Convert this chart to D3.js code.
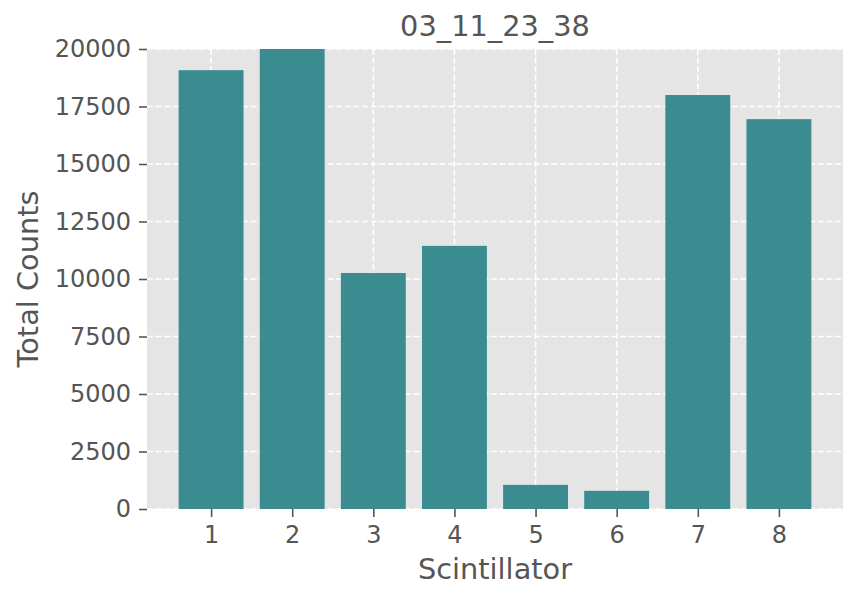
<!DOCTYPE html>
<html><head><meta charset="utf-8">
<script src="https://cdn.jsdelivr.net/npm/d3@7"></script>
<style>body{margin:0;background:#fff;} text{font-family:"DejaVu Sans",sans-serif;}</style>
</head><body>
<svg id="c" width="858" height="601"></svg>
<script>
const categories = [1,2,3,4,5,6,7,8];
const counts = [19080, 20000, 10260, 11440, 1050, 790, 18000, 16950];
const yTicks = [0,2500,5000,7500,10000,12500,15000,17500,20000];
const title = "03_11_23_38";
const xLabel = "Scintillator";
const yLabel = "Total Counts";

const svg = d3.select("#c");
const L=147, R=843, T=49, B=509;
const x = d3.scaleLinear().domain([0.21, 8.79]).range([L,R]);
const y = d3.scaleLinear().domain([0,20000]).range([B,T]);
const txt="#555555";

svg.append("rect").attr("x",L).attr("y",T).attr("width",R-L).attr("height",B-T).attr("fill","#e5e5e5");

// grid
svg.append("g").selectAll("line").data(yTicks).join("line")
 .attr("x1",L).attr("x2",R).attr("y1",d=>y(d)).attr("y2",d=>y(d))
 .attr("stroke","#fff").attr("stroke-width",1.6).attr("stroke-dasharray","6,2.6");
svg.append("g").selectAll("line").data(categories).join("line")
 .attr("x1",d=>x(d)).attr("x2",d=>x(d)).attr("y1",T).attr("y2",B)
 .attr("stroke","#fff").attr("stroke-width",1.6).attr("stroke-dasharray","6,2.6");

// bars
svg.append("g").selectAll("rect").data(categories).join("rect")
 .attr("x",(d)=>x(d-0.4)).attr("width",(d)=>x(d+0.4)-x(d-0.4))
 .attr("y",(d,i)=>y(counts[i])).attr("height",(d,i)=>y(0)-y(counts[i]))
 .attr("fill","#3a8c91");

// axes
const xa = svg.append("g").attr("transform",`translate(0,${B})`)
 .call(d3.axisBottom(x).tickValues(categories).tickFormat(d3.format("d")).tickSize(8).tickPadding(9));
const ya = svg.append("g").attr("transform",`translate(${L},0)`)
 .call(d3.axisLeft(y).tickValues(yTicks).tickFormat(d=>String(d)).tickSize(8).tickPadding(8));
[xa,ya].forEach(a=>{
  a.attr("font-size",null).attr("font-family",null);
  a.select(".domain").remove();
  a.selectAll(".tick line").attr("stroke",txt).attr("stroke-width",1.6);
  a.selectAll(".tick text").attr("fill",txt).style("font-size","24px").style("font-family","DejaVu Sans");
});

svg.append("text").attr("x",(L+R)/2).attr("y",36).attr("text-anchor","middle")
 .attr("fill",txt).style("font-size","28.8px").text(title);
svg.append("text").attr("x",(L+R)/2).attr("y",579).attr("text-anchor","middle")
 .attr("fill",txt).style("font-size","28.8px").text(xLabel);
svg.append("text").attr("transform",`translate(38,${(T+B)/2}) rotate(-90)`).attr("text-anchor","middle")
 .attr("fill",txt).style("font-size","28.8px").text(yLabel);
</script>
</body></html>
